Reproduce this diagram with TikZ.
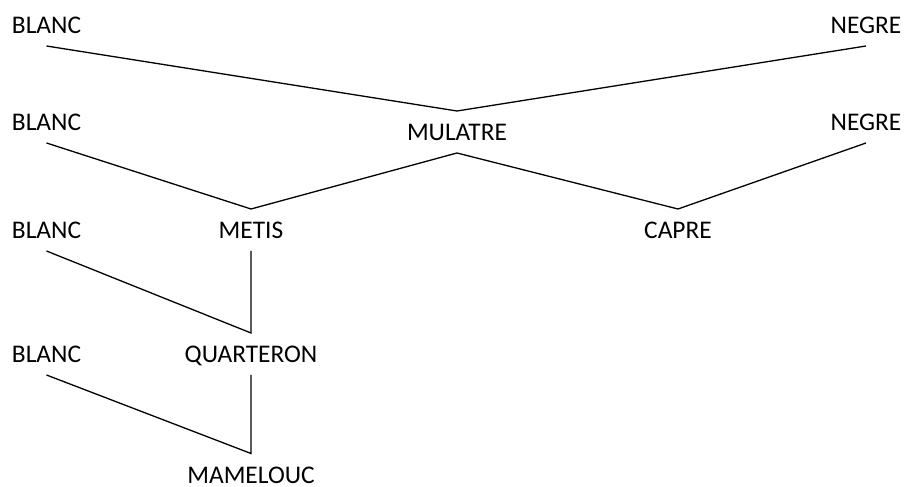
\documentclass[tikz,border=0pt]{standalone}
\usepackage{fontspec}
\setmainfont{Carlito}
\usetikzlibrary{positioning}
\tikzset{%
   race/.style={anchor=base, inner sep=0mm, outer sep=0mm, text height=15pt, text depth=6pt, font=\fontsize{12.7}{15}\selectfont},
   lien/.style={draw=black, line width=0.65pt},
}

\begin{document}
\begin{tikzpicture}[x=0.5pt, y=0.5pt]
      \useasboundingbox (0,0) rectangle (906,487);
      \node[race] (b1) at (46.5,453) {BLANC};
      \node[race] (n1) at (866,453) {NEGRE};
      \node[race] (b2) at (46.5,356) {BLANC};
      \node[race] (mu) at (457,346) {MULATRE};
      \node[race] (n2) at (866,356) {NEGRE};
      \node[race] (b3) at (46.5,248) {BLANC};
      \node[race] (me) at (251,248) {METIS};
      \node[race] (ca) at (678,248) {CAPRE};
      \node[race] (b4) at (46.5,124) {BLANC};
      \node[race] (qu) at (251,124) {QUARTERON};
      \node[race] (ma) at (251,3.5) {MAMELOUC};
      \draw[lien] (b1.south) -- (mu.north) -- (n1.south);
      \draw[lien] (b2.south) -- (me.north) -- (mu.south);
      \draw[lien] (mu.south) -- (ca.north) -- (n2.south);
      \draw[lien] (b3.south) -- (qu.north) -- (me.south);
      \draw[lien] (b4.south) -- (ma.north) -- (qu.south);
   \end{tikzpicture}
\end{document}
